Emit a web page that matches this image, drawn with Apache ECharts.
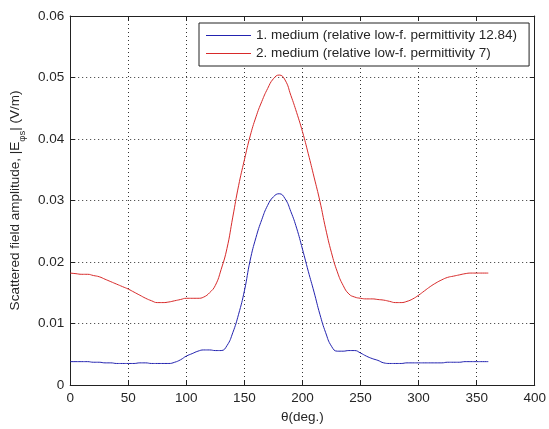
<!DOCTYPE html>
<html>
<head>
<meta charset="utf-8">
<script src="https://cdn.jsdelivr.net/npm/echarts@6/dist/echarts.min.js"></script>
<style>html,body{margin:0;padding:0;background:#fff;}#c{width:549px;height:429px;}</style>
</head>
<body>
<div id="c"></div>
<script>
var theta = [0,5,10,15,20,25,30,35,40,45,50,55,60,65,70,75,80,85,90,95,100,105,110,115,120,125,130,135,140,145,150,155,160,165,170,175,180,185,190,195,200,205,210,215,220,225,230,235,240,245,250,255,260,265,270,275,280,285,290,295,300,305,310,315,320,325,330,335,340,345,350,355,360];
var medium1 = [0.0038,0.0038,0.0038,0.0038,0.0037,0.0037,0.0036,0.0036,0.0035,0.0035,0.0035,0.0035,0.0036,0.0036,0.0035,0.0035,0.0035,0.0035,0.0037,0.0041,0.0047,0.0051,0.0055,0.0057,0.0057,0.0056,0.0056,0.0064,0.0085,0.0115,0.0153,0.0203,0.0240,0.0269,0.0292,0.0306,0.0311,0.0303,0.0282,0.0255,0.0221,0.0185,0.0151,0.0115,0.0085,0.0063,0.0055,0.0055,0.0056,0.0056,0.0052,0.0047,0.0043,0.0040,0.0036,0.0035,0.0035,0.0035,0.0036,0.0036,0.0036,0.0036,0.0036,0.0036,0.0036,0.0037,0.0037,0.0037,0.0038,0.0038,0.0038,0.0038,0.0038];
var medium2 = [0.0182,0.0181,0.0180,0.0180,0.0178,0.0176,0.0172,0.0168,0.0164,0.0160,0.0156,0.0151,0.0146,0.0141,0.0137,0.0134,0.0134,0.0135,0.0137,0.0139,0.0141,0.0141,0.0141,0.0143,0.0150,0.0162,0.0188,0.0222,0.0273,0.0324,0.0366,0.0405,0.0436,0.0461,0.0482,0.0498,0.0504,0.0496,0.0471,0.0443,0.0412,0.0376,0.0338,0.0299,0.0254,0.0215,0.0184,0.0162,0.0148,0.0143,0.0141,0.0140,0.0140,0.0139,0.0138,0.0136,0.0134,0.0134,0.0136,0.0140,0.0146,0.0153,0.0160,0.0166,0.0171,0.0175,0.0177,0.0179,0.0181,0.0182,0.0182,0.0182,0.0182];
var seriesNames = ['1. medium (relative low-f. permittivity 12.84)','2. medium (relative low-f. permittivity 7)'];
var xTicks = [0,50,100,150,200,250,300,350,400];
var yTicks = [0,0.01,0.02,0.03,0.04,0.05,0.06];

function pairs(xs, ys){ return xs.map(function(x,i){ return [x, ys[i]]; }); }

var font = 'Liberation Sans, Arial, sans-serif';
var fs = 13.5;
var txt = '#262626';
var chart = echarts.init(document.getElementById('c'), null, {renderer:'canvas'});
var axisCommon = {
  axisLine:{show:true, onZero:false, lineStyle:{color:'#222', width:1}},
  axisTick:{show:true, inside:true, length:5, lineStyle:{color:'#222'}},
};
chart.setOption({
  backgroundColor:'#fff',
  animation:false,
  grid:{left:69, right:12, top:16, bottom:43, containLabel:false},
  xAxis:[
    Object.assign({type:'value', min:0, max:400, interval:50, position:'bottom',
      name:'θ(deg.)', nameLocation:'middle', nameGap:25,
      nameTextStyle:{fontFamily:font, fontSize:fs, color:txt},
      axisLabel:{fontFamily:font, fontSize:fs, color:txt, margin:6, formatter:function(v){return xTicks.indexOf(v)>=0? String(v):'';}},
      splitLine:{show:true, lineStyle:{type:[1,3], color:'#333', width:1}}
    }, axisCommon),
    Object.assign({type:'value', min:0, max:400, interval:50, position:'top',
      axisLabel:{show:false}, splitLine:{show:false}}, axisCommon)
  ],
  yAxis:[
    Object.assign({type:'value', min:0, max:0.06, interval:0.01, position:'left',
      name:'{a|Scattered field amplitude, |E}{s|φs}{a|| (V/m)}', nameLocation:'middle', nameGap:46, nameRotate:90,
      nameTextStyle:{fontFamily:font, fontSize:fs, color:txt,
        rich:{a:{fontFamily:font, fontSize:fs, color:txt, lineHeight:16, verticalAlign:'middle'},
              s:{fontFamily:font, fontSize:9.5, color:txt, lineHeight:16, verticalAlign:'bottom', padding:[0,0,-4,0]}}},
      axisLabel:{fontFamily:font, fontSize:fs, color:txt, margin:6, formatter:function(v){return v===0?'0':v.toFixed(2);}},
      splitLine:{show:true, lineStyle:{type:[1,3], color:'#333', width:1}}
    }, axisCommon),
    Object.assign({type:'value', min:0, max:0.06, interval:0.01, position:'right',
      axisLabel:{show:false}, splitLine:{show:false}}, axisCommon)
  ],
  legend:{
    orient:'vertical', left:199, top:23,
    backgroundColor:'#fff', borderColor:'#222', borderWidth:1,
    padding:[5,12,5,7], itemWidth:45, itemHeight:1, itemGap:3, icon:'rect',
    textStyle:{fontFamily:font, fontSize:fs, color:txt, lineHeight:15},
    data:seriesNames
  },
  series:[
    {name:seriesNames[0], type:'line', xAxisIndex:0, yAxisIndex:0, data:pairs(theta, medium1), smooth:0.5, symbol:'none', lineStyle:{color:'#2323b0', width:1}, itemStyle:{color:'#2323b0'}},
    {name:seriesNames[1], type:'line', xAxisIndex:0, yAxisIndex:0, data:pairs(theta, medium2), smooth:0.5, symbol:'none', lineStyle:{color:'#d82a2a', width:1}, itemStyle:{color:'#d82a2a'}}
  ]
});
</script>
</body>
</html>
